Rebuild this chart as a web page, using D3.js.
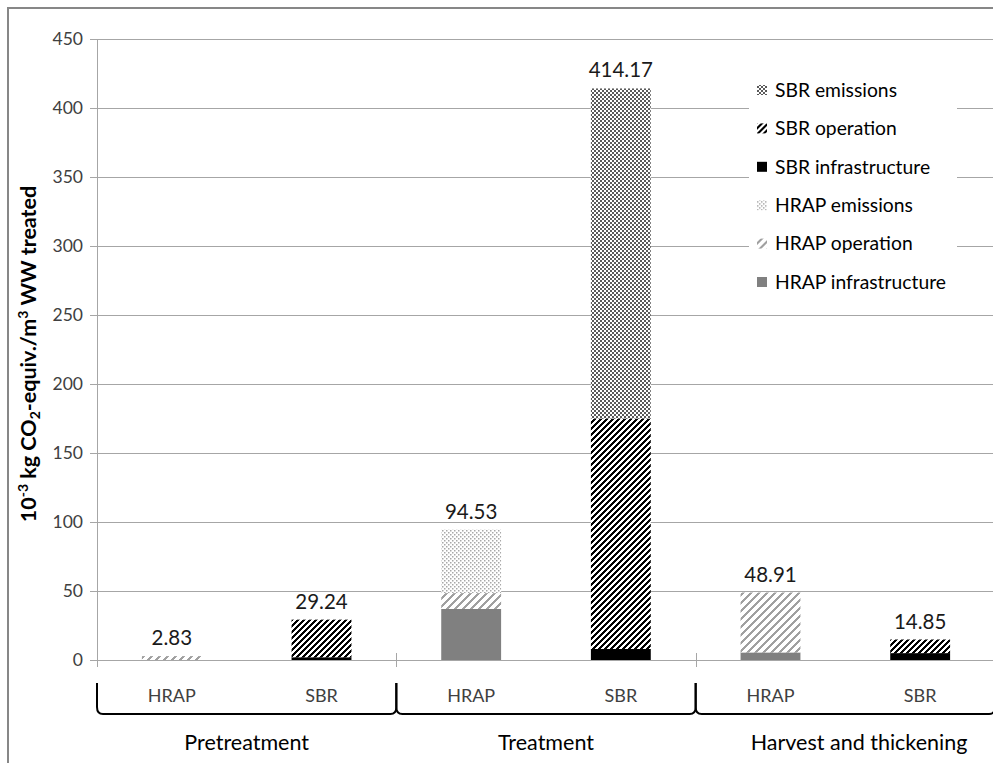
<!DOCTYPE html>
<html>
<head>
<meta charset="utf-8">
<script src="https://cdn.jsdelivr.net/npm/d3@7/dist/d3.min.js"></script>
<style>
  html, body { margin: 0; padding: 0; background: #fff; }
  svg { display: block; }
  text { font-family: Lato, "Open Sans", sans-serif; }
</style>
</head>
<body>
<svg id="chart" width="993" height="763"></svg>
<script>
// ---- data ----
const groups = ["Pretreatment", "Treatment", "Harvest and thickening"];
const systems = ["HRAP", "SBR"];
const hrapInfra = [0, 37, 5.5];
const hrapOper = [2.83, 11.5, 43.41];
const hrapEmis = [0, 46.03, 0];
const sbrInfra = [2, 8, 5];
const sbrOper = [27.24, 167, 9.85];
const sbrEmis = [0, 239.17, 0];
const totalLabels = ["2.83", "29.24", "94.53", "414.17", "48.91", "14.85"];
const yTicks = [0, 50, 100, 150, 200, 250, 300, 350, 400, 450];
const legendItems = ["SBR emissions", "SBR operation", "SBR infrastructure",
                     "HRAP emissions", "HRAP operation", "HRAP infrastructure"];

const svg = d3.select("#chart");
const W = 993, H = 763;
const margin = { left: 97, right: 995, top: 39, bottom: 660 };

// ---- patterns ----
const defs = svg.append("defs");
function hatch(id, size, color, sw) {
  const p = defs.append("pattern").attr("id", id).attr("patternUnits", "userSpaceOnUse")
    .attr("width", size).attr("height", size);
  p.append("rect").attr("width", size).attr("height", size).attr("fill", "#fff");
  p.append("path")
    .attr("d", `M${-size/4},${size/4} L${size/4},${-size/4} M0,${size} L${size},0 M${size*3/4},${size*5/4} L${size*5/4},${size*3/4}`)
    .attr("stroke", color).attr("stroke-width", sw).attr("shape-rendering", "crispEdges");
}
hatch("hatchLight", 8, "#a0a0a0", 2.4);
hatch("hatchDark", 6, "#000", 2.2);
function dots(id, size, color, r) {
  const p = defs.append("pattern").attr("id", id).attr("patternUnits", "userSpaceOnUse")
    .attr("width", size).attr("height", size);
  p.append("rect").attr("width", size).attr("height", size).attr("fill", "#fff");
  p.append("rect").attr("x", 0).attr("y", 0).attr("width", r).attr("height", r).attr("fill", color);
  p.append("rect").attr("x", size/2).attr("y", size/2).attr("width", r).attr("height", r).attr("fill", color);
}
dots("dotsLight", 4, "#a8a8a8", 1.5);
dots("dotsDark", 4, "#5a5a5a", 2);

const fills = {
  "HRAP infrastructure": "#808080",
  "HRAP operation": "url(#hatchLight)",
  "HRAP emissions": "url(#dotsLight)",
  "SBR infrastructure": "#000",
  "SBR operation": "url(#hatchDark)",
  "SBR emissions": "url(#dotsDark)"
};

// ---- frame ----
svg.append("path").attr("d", `M8,${H} L8,8 L${W},8`).attr("fill", "none")
  .attr("stroke", "#878787").attr("stroke-width", 2);

// ---- scales ----
const x0 = d3.scaleBand().domain(groups).range([margin.left, margin.right]).padding(0);
const x1 = d3.scaleBand().domain(systems).range([0, x0.bandwidth()]).paddingInner(0.6).paddingOuter(0.3);
const y = d3.scaleLinear().domain([0, 450]).range([margin.bottom, margin.top]);

// gridlines
svg.append("g").selectAll("line").data(yTicks.filter(d => d > 0)).join("line")
  .attr("x1", margin.left).attr("x2", W).attr("y1", d => Math.round(y(d)) + 0.5).attr("y2", d => Math.round(y(d)) + 0.5)
  .attr("stroke", "#a6a6a6").attr("stroke-width", 1);

// ---- bars ----
const rows = [];
groups.forEach((g, i) => {
  rows.push({ group: g, sys: "HRAP", parts: [
    ["HRAP infrastructure", hrapInfra[i]], ["HRAP operation", hrapOper[i]], ["HRAP emissions", hrapEmis[i]]] });
  rows.push({ group: g, sys: "SBR", parts: [
    ["SBR infrastructure", sbrInfra[i]], ["SBR operation", sbrOper[i]], ["SBR emissions", sbrEmis[i]]] });
});
const segs = [];
rows.forEach((r, idx) => {
  let base = 0;
  r.parts.forEach(([name, v]) => {
    segs.push({ group: r.group, sys: r.sys, name, y0: base, y1: base + v });
    base += v;
  });
  r.total = base;
  r.label = totalLabels[idx];
});
svg.append("g").selectAll("rect").data(segs.filter(s => s.y1 > s.y0)).join("rect")
  .attr("x", d => x0(d.group) + x1(d.sys))
  .attr("width", x1.bandwidth())
  .attr("y", d => y(d.y1))
  .attr("height", d => y(d.y0) - y(d.y1))
  .attr("fill", d => fills[d.name]);

// value labels
svg.append("g").selectAll("text").data(rows).join("text")
  .attr("x", d => x0(d.group) + x1(d.sys) + x1.bandwidth() / 2)
  .attr("y", d => y(d.total) - 11)
  .attr("text-anchor", "middle")
  .attr("font-size", 20.5).attr("fill", "#1a1a1a")
  .text(d => d.label);

// ---- y axis ----
const yAxis = svg.append("g");
yAxis.append("line").attr("x1", margin.left + 0.5).attr("x2", margin.left + 0.5)
  .attr("y1", margin.top).attr("y2", margin.bottom).attr("stroke", "#a6a6a6");
yAxis.selectAll("line.t").data(yTicks).join("line").attr("class", "t")
  .attr("x1", margin.left - 7).attr("x2", margin.left)
  .attr("y1", d => Math.round(y(d)) + 0.5).attr("y2", d => Math.round(y(d)) + 0.5)
  .attr("stroke", "#a6a6a6");
yAxis.selectAll("text").data(yTicks).join("text")
  .attr("x", 83).attr("y", d => y(d)).attr("dy", "0.35em")
  .attr("text-anchor", "end").attr("font-size", 17.5).attr("fill", "#404040")
  .text(d => d);

// y title
const yt = svg.append("text")
  .attr("transform", "translate(36,354) rotate(-90)")
  .attr("text-anchor", "middle").attr("font-size", 21.5).attr("font-weight", "bold").attr("fill", "#000");
yt.append("tspan").text("10");
yt.append("tspan").attr("font-size", 14).attr("dy", -8).text("-3");
yt.append("tspan").attr("dy", 8).text(" kg CO");
yt.append("tspan").attr("font-size", 14).attr("dy", 4).text("2");
yt.append("tspan").attr("dy", -4).text("-equiv./m");
yt.append("tspan").attr("font-size", 14).attr("dy", -8).text("3");
yt.append("tspan").attr("dy", 8).text(" WW treated");

// ---- x axis ----
svg.append("line").attr("x1", margin.left).attr("x2", W)
  .attr("y1", margin.bottom + 0.5).attr("y2", margin.bottom + 0.5).attr("stroke", "#a6a6a6");
const bounds = groups.map(g => x0(g)).concat([x0(groups[groups.length - 1]) + x0.bandwidth()]);
svg.append("g").selectAll("line").data(bounds).join("line")
  .attr("x1", d => Math.round(d) + 0.5).attr("x2", d => Math.round(d) + 0.5)
  .attr("y1", margin.bottom - 7).attr("y2", margin.bottom + 7).attr("stroke", "#a6a6a6");

// system labels
svg.append("g").selectAll("text").data(rows).join("text")
  .attr("x", d => x0(d.group) + x1(d.sys) + x1.bandwidth() / 2)
  .attr("y", 702)
  .attr("text-anchor", "middle").attr("font-size", 18).attr("fill", "#404040")
  .text(d => d.sys);

// braces
svg.append("g").selectAll("path").data(groups).join("path")
  .attr("d", g => {
    const a = x0(g), b = x0(g) + x0.bandwidth();
    return `M${a},683 L${a},707 Q${a},714 ${a + 6},714 L${b - 6},714 Q${b},714 ${b},707 L${b},683`;
  })
  .attr("fill", "none").attr("stroke", "#000").attr("stroke-width", 2);

// group labels
svg.append("g").selectAll("text").data(groups).join("text")
  .attr("x", g => g === groups[2] ? 859 : x0(g) + x0.bandwidth() / 2)
  .attr("y", 750)
  .attr("text-anchor", "middle").attr("font-size", 21.5).attr("fill", "#000")
  .text(g => g);

// ---- legend ----
const leg = svg.append("g");
leg.append("rect").attr("x", 749).attr("y", 70).attr("width", 208).attr("height", 230).attr("fill", "#fff");
const li = leg.selectAll("g").data(legendItems).join("g")
  .attr("transform", (d, i) => `translate(757,${90 + i * 38.4})`);
li.append("rect").attr("x", 0).attr("y", -5).attr("width", 10).attr("height", 10)
  .attr("fill", d => fills[d]);
li.append("text").attr("x", 18).attr("y", 0).attr("dy", "0.35em")
  .attr("font-size", 19.3).attr("fill", "#000").text(d => d);
</script>
</body>
</html>
